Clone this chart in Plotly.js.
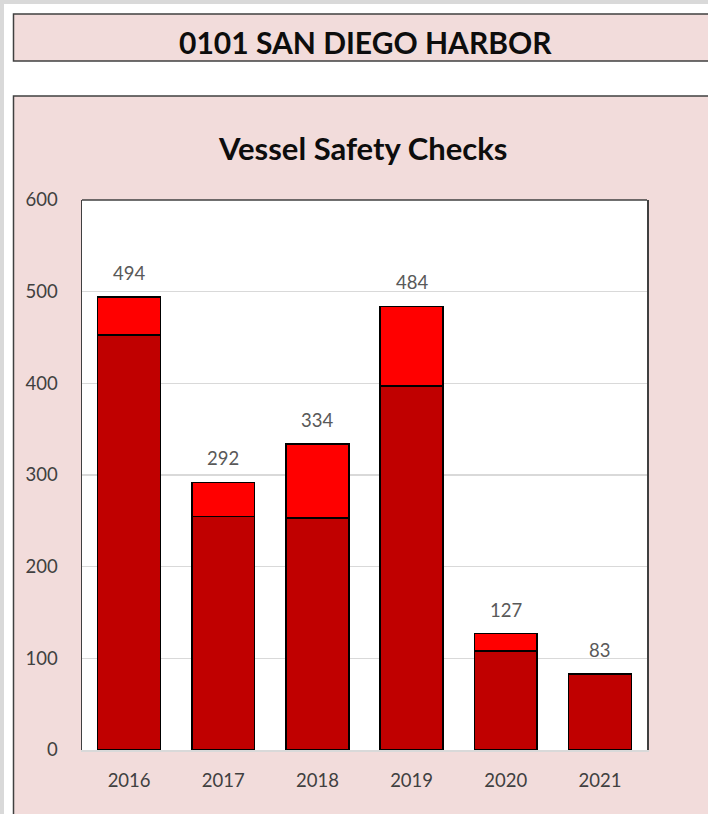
<!DOCTYPE html>
<html>
<head>
<meta charset="utf-8">
<script src="https://cdn.plot.ly/plotly-3.0.1.min.js"></script>
<style>html,body{margin:0;padding:0;background:#fff;}#chart{width:708px;height:814px;}</style>
</head>
<body>
<div id="chart"></div>
<script>
// ---- data ----
const years = ['2016', '2017', '2018', '2019', '2020', '2021'];
const lowerValues = [453, 255, 253, 397, 108, 83];
const upperValues = [41, 37, 81, 87, 19, 0];
const totals = [494, 292, 334, 484, 127, 83];
const yTicks = [0, 100, 200, 300, 400, 500, 600];
const headerText = '0101 SAN DIEGO HARBOR';
const chartTitle = 'Vessel Safety Checks';

// ---- layout helpers (pixel -> paper) ----
const W = 708, H = 814;
const L = 82, R = 647, T = 200, B = 750;
const px = x => (x - L) / (R - L);
const py = y => (B - y) / (B - T);

const FONT = 'Lato, "Open Sans", sans-serif';
const PINK = '#F2DCDB';
const EDGE = '#404040';

const traces = [
  {type: 'bar', x: years, y: lowerValues, marker: {color: '#C00000', line: {color: '#000', width: 1.5}}, hoverinfo: 'skip'},
  {type: 'bar', x: years, y: upperValues, marker: {color: '#FF0000', line: {color: '#000', width: 1.5}}, hoverinfo: 'skip'}
];

const labelAnns = years.map((yr, i) => ({
  x: i, y: totals[i], xref: 'x', yref: 'y', text: String(totals[i]),
  showarrow: false, yanchor: 'bottom', yshift: 11,
  font: {family: FONT, size: 18.5, color: '#595959'}
}));

const layout = {
  width: W, height: H,
  margin: {l: L, r: W - R, t: T, b: H - B, pad: 0},
  paper_bgcolor: '#ffffff', plot_bgcolor: '#ffffff',
  barmode: 'stack', bargap: 0.334,
  showlegend: false,
  font: {family: FONT, color: '#404040'},
  xaxis: {
    type: 'category', categoryarray: years, range: [-0.5, years.length - 0.5],
    showline: true, linecolor: '#D9D9D9', linewidth: 1.5,
    ticks: '', tickfont: {family: FONT, size: 18.5, color: '#404040'},
    ticklabelstandoff: 13, fixedrange: true
  },
  yaxis: {
    range: [0, 600], tickvals: yTicks, showgrid: true, gridcolor: '#D9D9D9', gridwidth: 1.5,
    showline: true, mirror: true, linecolor: EDGE, linewidth: 1.5, zeroline: false,
    ticks: '', tickfont: {family: FONT, size: 18.5, color: '#404040'},
    ticklabelstandoff: 19, fixedrange: true
  },
  shapes: [
    // gray outer strips
    {type: 'rect', xref: 'paper', yref: 'paper', x0: px(0), x1: px(W + 10), y0: py(0), y1: py(4), fillcolor: '#D9D9D9', line: {width: 0}, layer: 'below'},
    {type: 'rect', xref: 'paper', yref: 'paper', x0: px(0), x1: px(4), y0: py(0), y1: py(H + 10), fillcolor: '#D9D9D9', line: {width: 0}, layer: 'below'},
    // header box
    {type: 'rect', xref: 'paper', yref: 'paper', x0: px(13.5), x1: px(W + 10), y0: py(14), y1: py(61), fillcolor: PINK, line: {color: EDGE, width: 1.5}, layer: 'below'},
    // chart panel
    {type: 'rect', xref: 'paper', yref: 'paper', x0: px(13.5), x1: px(W + 10), y0: py(96), y1: py(H + 10), fillcolor: PINK, line: {color: EDGE, width: 1.5}, layer: 'below'},
    // plot area white + top border
    {type: 'rect', xref: 'paper', yref: 'paper', x0: 0, x1: 1, y0: 0, y1: 1, fillcolor: '#ffffff', line: {width: 0}, layer: 'below'},
    {type: 'line', xref: 'paper', yref: 'paper', x0: 0, x1: 1, y0: 1, y1: 1, line: {color: EDGE, width: 1.5}}
  ],
  annotations: [
    {xref: 'paper', yref: 'paper', x: px(365), y: py(42), text: '<b>' + headerText + '</b>', showarrow: false,
     xanchor: 'center', yanchor: 'middle', font: {family: FONT, size: 30, color: '#0d0d0d'}},
    {xref: 'paper', yref: 'paper', x: px(362), y: py(148), text: '<b>' + chartTitle + '</b>', showarrow: false,
     xanchor: 'center', yanchor: 'middle', font: {family: FONT, size: 31, color: '#0d0d0d'}}
  ].concat(labelAnns)
};

Plotly.newPlot('chart', traces, layout, {staticPlot: true, displayModeBar: false});
</script>
</body>
</html>
